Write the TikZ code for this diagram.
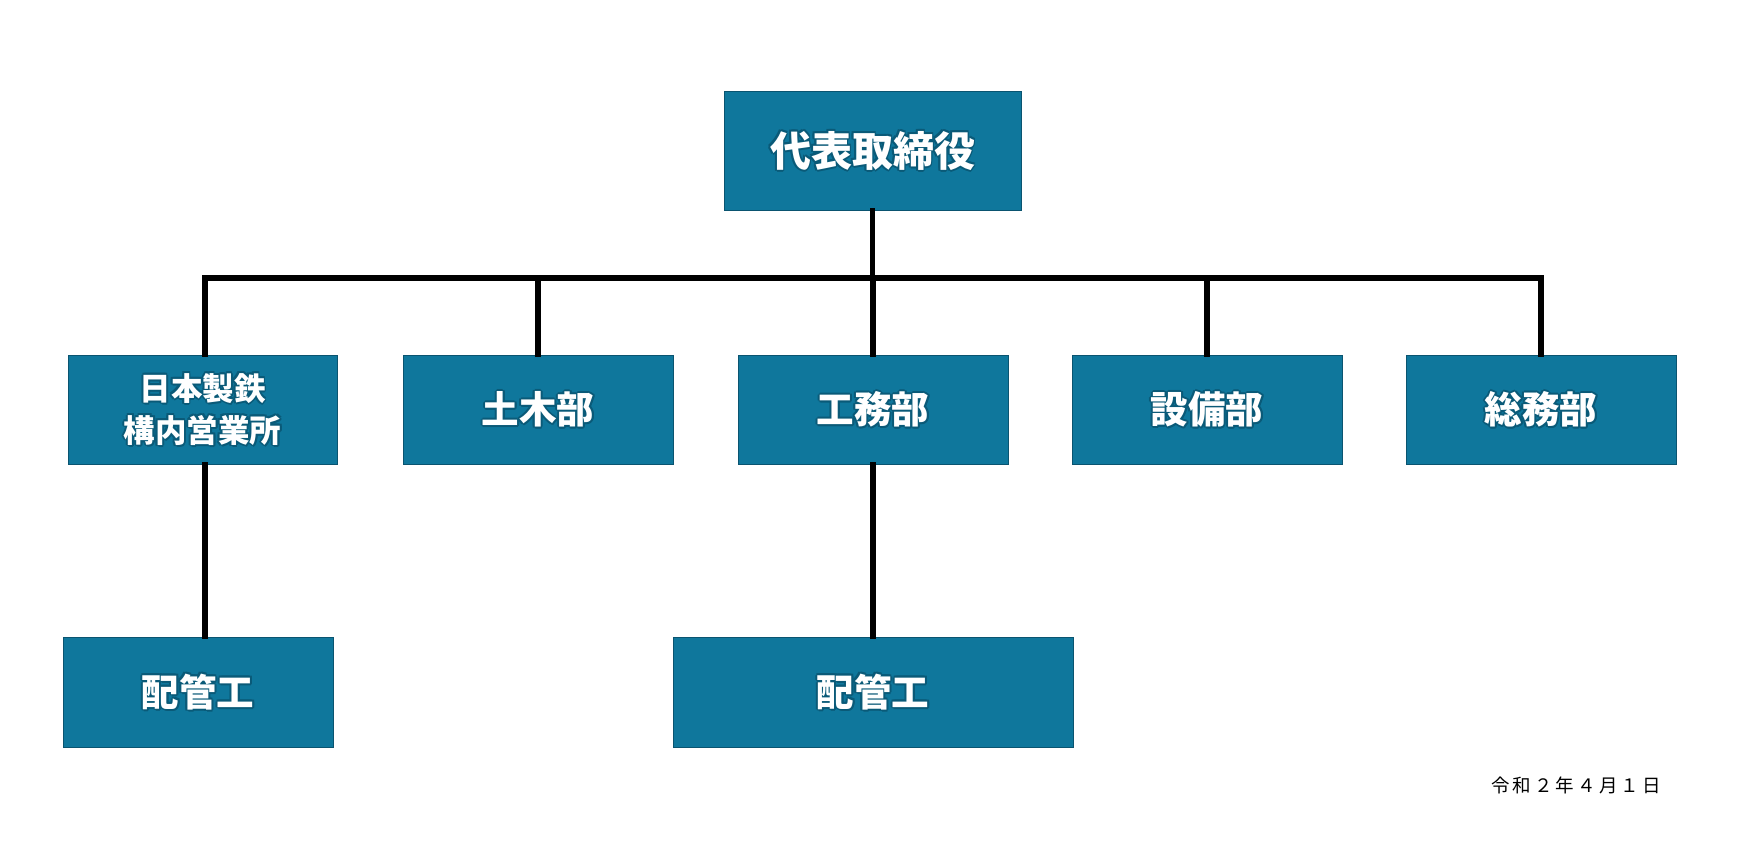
\documentclass[tikz,border=0pt]{standalone}
\usepackage{fontspec}
\newfontfamily\jp{Noto Sans CJK JP}
\definecolor{boxfill}{HTML}{0F779C}
\definecolor{boxline}{HTML}{0A5470}
\definecolor{glowc}{HTML}{0A5A78}
\newcommand\glw[1]{%
  \rlap{\kern-1.8pt\textcolor{glowc}{#1}}%
  \rlap{\kern1.8pt\textcolor{glowc}{#1}}%
  \rlap{\raisebox{1.8pt}{\textcolor{glowc}{#1}}}%
  \rlap{\raisebox{-1.8pt}{\textcolor{glowc}{#1}}}%
  \rlap{\kern-1.3pt\raisebox{1.3pt}{\textcolor{glowc}{#1}}}%
  \rlap{\kern1.3pt\raisebox{1.3pt}{\textcolor{glowc}{#1}}}%
  \rlap{\kern-1.3pt\raisebox{-1.3pt}{\textcolor{glowc}{#1}}}%
  \rlap{\kern1.3pt\raisebox{-1.3pt}{\textcolor{glowc}{#1}}}%
  \rlap{\kern0.8pt\raisebox{-2.4pt}{\textcolor{glowc}{#1}}}%
  #1}
\tikzset{
  unit/.style={draw=boxline, line width=1pt, fill=boxfill, inner sep=0pt,
    text=white, font=\jp\bfseries, align=center},
  conn/.style={line width=5.5pt, line join=miter, line cap=rect},
}
\begin{document}
\begin{tikzpicture}[x=1pt,y=-1pt]
\useasboundingbox[fill=white] (0,0) rectangle (1746,848);
\node[unit, minimum width=297, minimum height=118, font=\jp\bfseries\fontsize{41}{48}\selectfont] (top) at (872.5,151) {\glw{代表取締役}};
\node[unit, minimum width=269, minimum height=109, font=\jp\bfseries\fontsize{31.5}{42}\selectfont] (d1) at (202.5,409.5) {\glw{日本製鉄}\\\glw{構内営業所}};
\node[unit, minimum width=270, minimum height=109, font=\jp\bfseries\fontsize{37.5}{44}\selectfont] (d2) at (538,409.5) {\glw{土木部}};
\node[unit, minimum width=270, minimum height=109, font=\jp\bfseries\fontsize{37.5}{44}\selectfont] (d3) at (873,409.5) {\glw{工務部}};
\node[unit, minimum width=270, minimum height=109, font=\jp\bfseries\fontsize{37.5}{44}\selectfont] (d4) at (1207,409.5) {\glw{設備部}};
\node[unit, minimum width=270, minimum height=109, font=\jp\bfseries\fontsize{37.5}{44}\selectfont] (d5) at (1541,409.5) {\glw{総務部}};
\node[unit, minimum width=270, minimum height=110, font=\jp\bfseries\fontsize{37.5}{44}\selectfont] (p1) at (198,692) {\glw{配管工}};
\node[unit, minimum width=400, minimum height=110, font=\jp\bfseries\fontsize{37.5}{44}\selectfont] (p2) at (873,692) {\glw{配管工}};
\node[anchor=east, inner sep=0pt, font=\jp\fontsize{18.5}{22}\selectfont] (date) at (1661,785) {令\,和\,２\,年\,４\,月\,１\,日};
\coordinate (bus) at (872.5,278);
\coordinate (d1n) at ([xshift=2.5pt]d1.north);
\coordinate (d1s) at ([xshift=2.5pt]d1.south);
\draw[conn] (top.south) -- (bus);
\draw[conn] (d1n) |- (bus) -| (d5.north);
\draw[conn] (d2.north) -- (d2.north |- bus);
\draw[conn] (d3.north) -- (d3.north |- bus);
\draw[conn] (d4.north) -- (d4.north |- bus);
\draw[conn] (d1s) -- (d1s |- p1.north);
\draw[conn] (d3.south) -- (p2.north);
\end{tikzpicture}
\end{document}
